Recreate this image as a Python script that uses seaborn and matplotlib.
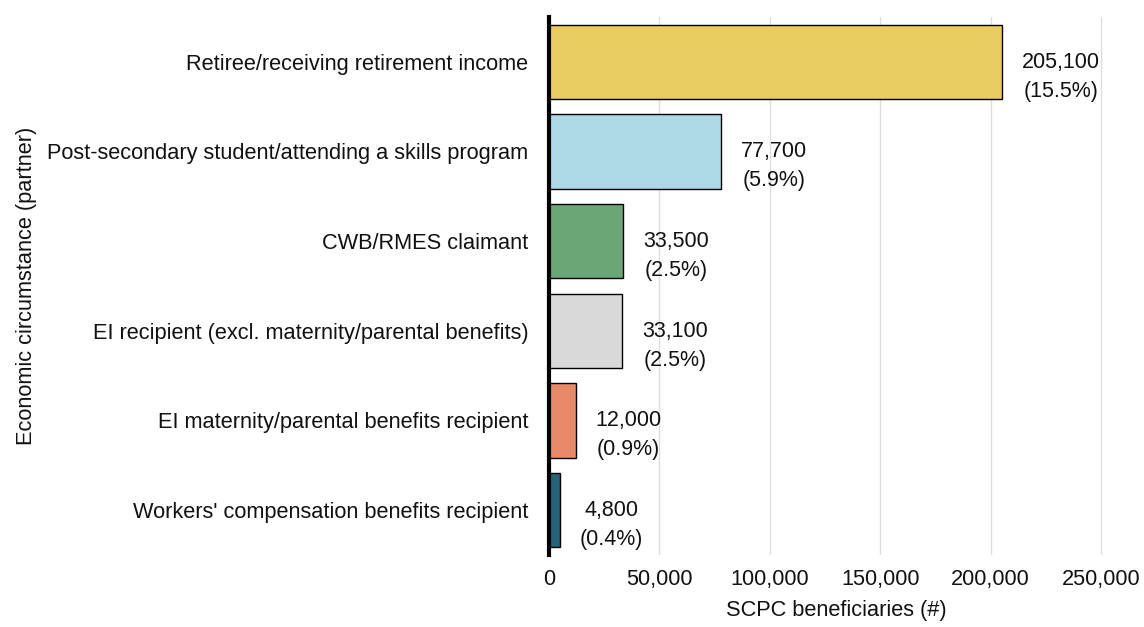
import matplotlib
matplotlib.use("Agg")
import matplotlib.pyplot as plt
import seaborn as sns
import pandas as pd
from matplotlib.ticker import FuncFormatter

categories = [
    "Retiree/receiving retirement income",
    "Post-secondary student/attending a skills program",
    "CWB/RMES claimant",
    "EI recipient (excl. maternity/parental benefits)",
    "EI maternity/parental benefits recipient",
    "Workers' compensation benefits recipient",
]
beneficiaries = [205100, 77700, 33500, 33100, 12000, 4800]
shares = ["15.5%", "5.9%", "2.5%", "2.5%", "0.9%", "0.4%"]
bar_colors = ["#E9CB62", "#ADD8E6", "#6BA676", "#D9D9D9", "#E8896A", "#256379"]

df = pd.DataFrame({"category": categories, "value": beneficiaries})

sns.set_theme(style="white")
plt.rcParams["font.family"] = ["Liberation Sans", "DejaVu Sans"]

fig = plt.figure(figsize=(11.44, 6.27), dpi=100)
ax = fig.add_axes([0.48, 0.115, 0.5017, 0.858])

sns.barplot(
    data=df, x="value", y="category", hue="category",
    palette=bar_colors, order=categories, hue_order=categories,
    saturation=1, edgecolor="black", linewidth=1.0, width=0.83,
    legend=False, ax=ax, orient="h",
)

# value label: first line level with the bar centre, share underneath
for i, (v, s) in enumerate(zip(beneficiaries, shares)):
    ax.annotate(f"{v:,}\n({s})", xy=(v, i), xytext=(20, 10),
                textcoords="offset pixels", ha="left", va="top",
                multialignment="center", linespacing=1.5,
                fontsize=15.5, color="#111111")

ax.set_xlim(0, 260000)
ax.set_ylim(5.5, -0.5)
ax.set_xticks([0, 50000, 100000, 150000, 200000, 250000])
ax.xaxis.set_major_formatter(FuncFormatter(lambda x, p: f"{int(x):,}"))
ax.grid(axis="x", color="#DDDDDD", linewidth=1)
ax.grid(axis="y", visible=False)
ax.set_axisbelow(True)

for side in ["top", "right", "bottom"]:
    ax.spines[side].set_visible(False)
ax.spines["left"].set_color("black")
ax.spines["left"].set_linewidth(3)

ax.tick_params(axis="both", length=0, labelsize=15.7, colors="#111111")
ax.tick_params(axis="y", pad=15)
ax.tick_params(axis="x", pad=10)
ax.set_xlabel("SCPC beneficiaries (#)", fontsize=15.7, color="#111111", labelpad=7)
ax.set_ylabel("Economic circumstance (partner)", fontsize=15.7, color="#111111", labelpad=7)

fig.savefig("out.png", dpi=100)
